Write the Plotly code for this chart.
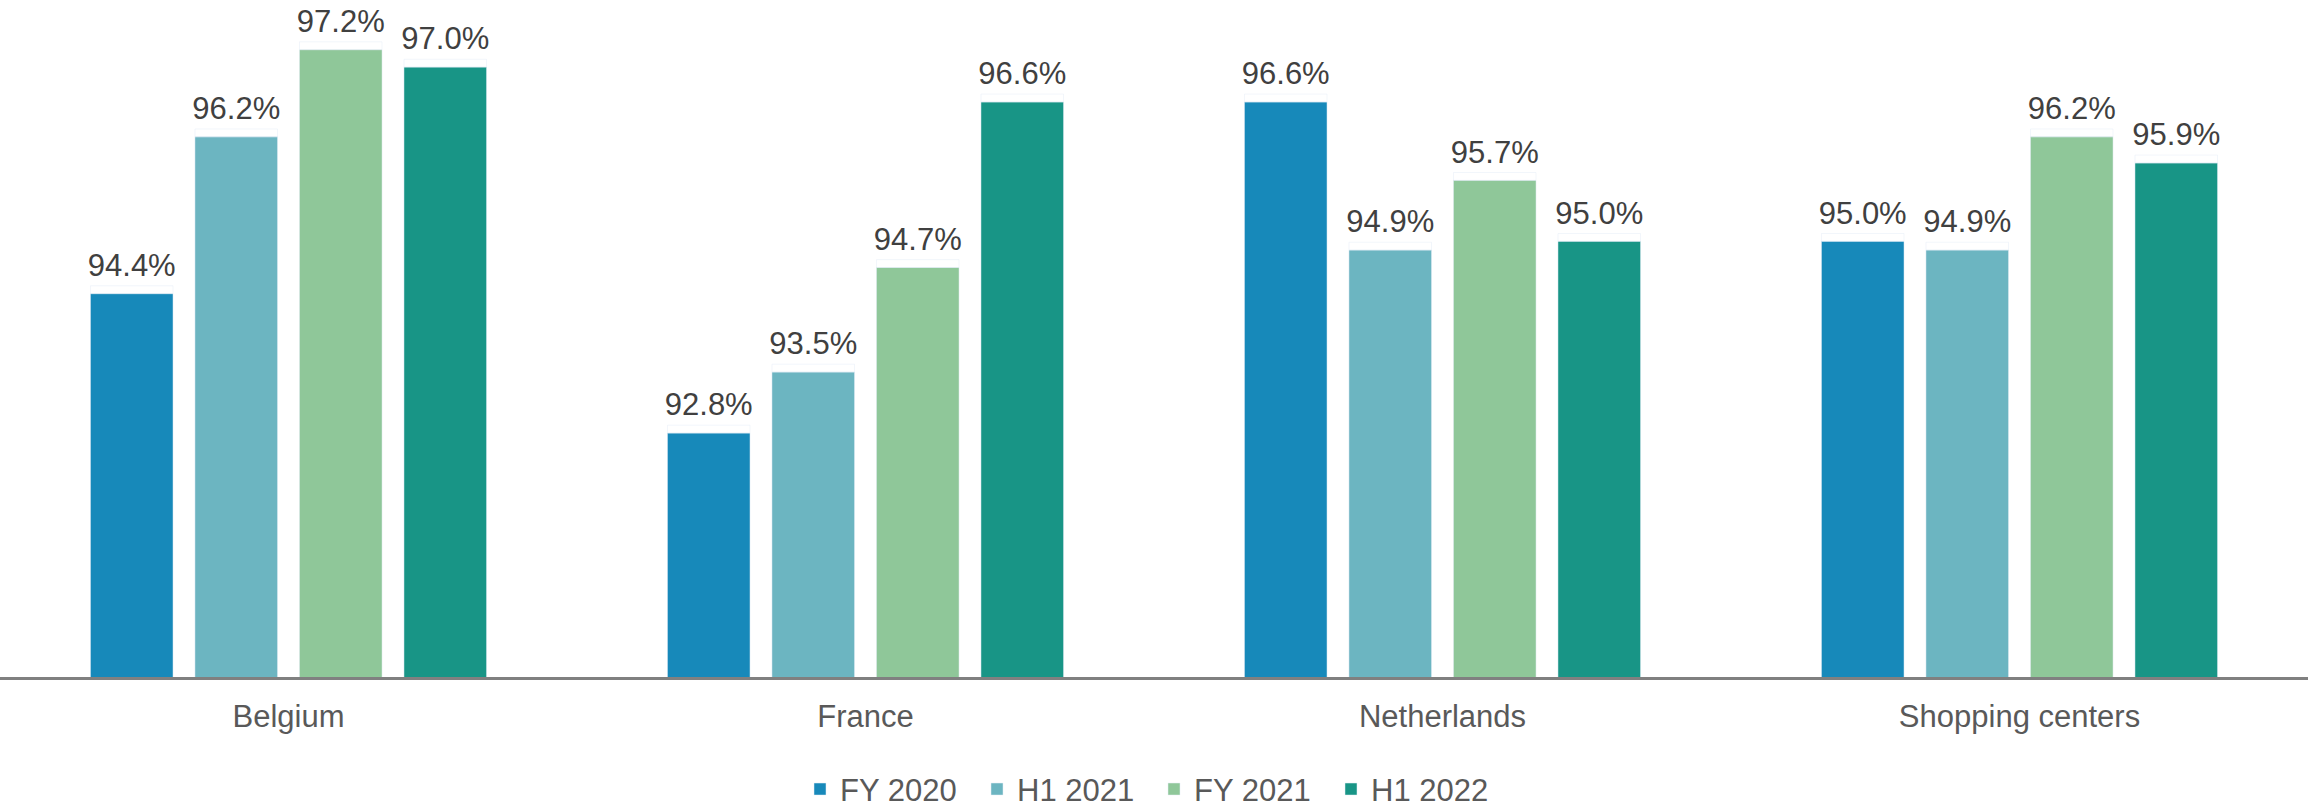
import plotly.graph_objects as go

categories = ["Belgium", "France", "Netherlands", "Shopping centers"]
series_names = ["FY 2020", "H1 2021", "FY 2021", "H1 2022"]
fy2020 = [94.4, 92.8, 96.6, 95.0]
h1_2021 = [96.2, 93.5, 94.9, 94.9]
fy2021 = [97.2, 94.7, 95.7, 96.2]
h1_2022 = [97.0, 96.6, 95.0, 95.9]
colors = ["#1789BA", "#6CB5C1", "#8FC799", "#189586"]

FONT = "Liberation Sans, Arial, sans-serif"
LABEL_LIFT = 0.09  # small gap (in axis units) between bar top and its value label

fig = go.Figure()
for i, (name, vals, col) in enumerate(zip(series_names, [fy2020, h1_2021, fy2021, h1_2022], colors)):
    fig.add_trace(go.Bar(
        x=categories, y=vals, name=name, offsetgroup=str(i),
        marker=dict(color=col), hoverinfo="x+y",
    ))
    # invisible spacer carrying the value label just above the bar
    fig.add_trace(go.Bar(
        x=categories, y=[LABEL_LIFT] * len(vals), base=vals, offsetgroup=str(i),
        marker=dict(color="rgba(0,0,0,0)"), showlegend=False, hoverinfo="skip",
        text=[f"{v:.1f}%" for v in vals],
        textposition="outside", constraintext="none", cliponaxis=False,
        textfont=dict(family=FONT, size=31, color="#404040"),
    ))

fig.update_layout(
    width=2308, height=810,
    margin=dict(l=0, r=0, t=0, b=133, autoexpand=False),
    paper_bgcolor="white", plot_bgcolor="white",
    barmode="group", bargap=0.2755, bargroupgap=0.21,
    font=dict(family=FONT, color="#595959"),
    showlegend=True,
    legend=dict(orientation="h", x=0.5, xanchor="center", y=-0.166, yanchor="middle",
                font=dict(family=FONT, size=31, color="#595959"),
                itemwidth=30, entrywidth=132, entrywidthmode="pixels",
                traceorder="normal"),
)
fig.update_xaxes(showline=True, linecolor="#808080", linewidth=3,
                 range=[-0.5, 3.5], autorange=False, automargin=False,
                 ticks="outside", ticklen=10, tickcolor="rgba(0,0,0,0)",
                 tickfont=dict(family=FONT, size=31, color="#595959"),
                 showgrid=False)
fig.update_yaxes(range=[90, 97.77], visible=False, showgrid=False, zeroline=False)

fig.write_html("out.html", config={"displayModeBar": False},
               post_script="document.body.style.margin='0';document.body.style.overflow='hidden';")
